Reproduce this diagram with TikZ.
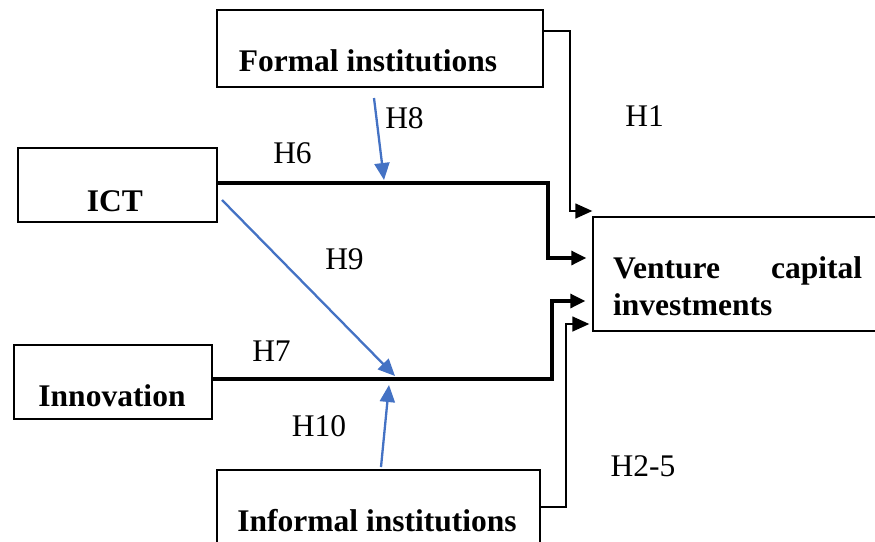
\documentclass[tikz,border=0pt]{standalone}
\usepackage{fontspec}
\setmainfont{Liberation Serif}
\usetikzlibrary{arrows.meta,calc}
\definecolor{linkblue}{HTML}{4472C4}
\begin{document}
\begin{tikzpicture}[x=1pt,y=-1pt,
  box/.style={draw,line width=1.4pt,inner sep=0pt},
  lbl/.style={font=\fontsize{31.5}{37}\selectfont\bfseries,anchor=base,inner sep=0pt},
  hyp/.style={font=\fontsize{31.5}{37}\selectfont,inner sep=0pt},
  thinarrow/.style={line width=1.5pt,-{Triangle[length=17pt,width=15pt]}},
  thickarrow/.style={line width=3.2pt,-{Triangle[length=15pt,width=14pt]}},
  bluearrow/.style={draw=linkblue,line width=2.3pt,-{Triangle[length=17pt,width=15pt]},fill=linkblue}]
\useasboundingbox (0,0) rectangle (875,541);
% boxes
\node[box,minimum width=326pt,minimum height=77pt] (formal) at (380,48.5) {};
\node[box,minimum width=199pt,minimum height=74pt] (ict) at (117.5,185) {};
\node[box,minimum width=198pt,minimum height=74pt] (innov) at (113,382) {};
\node[box,minimum width=323pt,minimum height=100pt] (informal) at (378.5,520) {};
\node[box,minimum width=292pt,minimum height=114pt] (vc) at (739,274) {};
% box texts
\node[lbl] (formaltxt) at (368,71) {Formal institutions};
\node[lbl] (icttxt) at (115,211) {ICT};
\node[lbl] (innovtxt) at (112,406) {Innovation};
\node[lbl] (informaltxt) at (377,531) {Informal institutions};
\node[lbl,anchor=base west,text width=249pt,align=left,font=\fontsize{31.5}{37}\selectfont\bfseries] (vctxt) at (613,278) {Venture\hfill capital\\investments};
% black connectors
\draw[thinarrow] (formal.east |- 0,31) -| (570,211) -- (vc.west |- 0,211);
\draw[thickarrow,shorten >=6pt] (ict.east |- 0,183) -| (548,258) -- (vc.west |- 0,258);
\draw[thickarrow,shorten >=7pt] (innov.east |- 0,379) -| (552,301) -- (vc.west |- 0,301);
\draw[thinarrow,shorten >=3pt] (informal.east |- 0,507) -| (566,324) -- (vc.west |- 0,324);
% blue moderating arrows
\coordinate (h8s) at (374,98);
\coordinate (h8e) at (384,180);
\coordinate (h9s) at (222,200);
\coordinate (h9e) at (395,376);
\coordinate (h10s) at (381,467);
\coordinate (h10e) at (389,385);
\draw[bluearrow] (h8s) -- (h8e);
\draw[bluearrow] (h9s) -- (h9e);
\draw[bluearrow] (h10s) -- (h10e);
% hypothesis labels
\node[hyp] (h1) at (644.5,116.5) {H1};
\node[hyp] (h8) at (404.5,118.5) {H8};
\node[hyp] (h6) at (292.5,153) {H6};
\node[hyp] (h9) at (344.5,259) {H9};
\node[hyp] (h7) at (271.5,351) {H7};
\node[hyp] (h10) at (319,426) {H10};
\node[hyp] (h25) at (643,466) {H2-5};
\end{tikzpicture}
\end{document}
